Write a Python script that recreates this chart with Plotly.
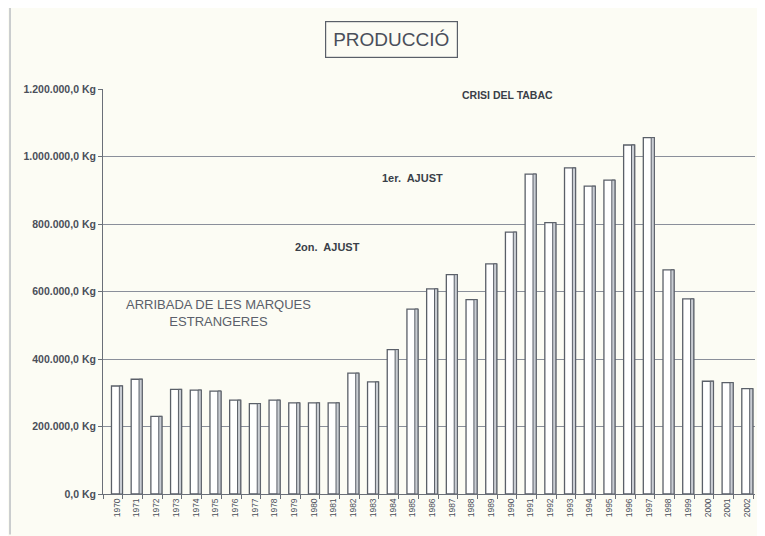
import plotly.graph_objects as go

years = list(range(1970, 2003))
production_kg = [
    320000, 340000, 230000, 310000, 308000, 305000, 278000, 268000, 278000, 270000,
    270000, 270000, 358000, 332000, 428000, 548000, 608000, 650000, 576000, 682000,
    776000, 948000, 804000, 966000, 912000, 930000, 1034000, 1056000, 664000, 578000,
    334000, 330000, 312000,
]
y_tick_values = [0, 200000, 400000, 600000, 800000, 1000000, 1200000]
y_tick_labels = ["0,0 Kg", "200.000,0 Kg", "400.000,0 Kg", "600.000,0 Kg",
                 "800.000,0 Kg", "1.000.000,0 Kg", "1.200.000,0 Kg"]
x_tick_labels = [str(y) for y in years]

FONT = "Liberation Sans, Arial, sans-serif"
INK = "#4a4f5a"
BG = "#fcfcf4"

fig = go.Figure()
# main bar faces
fig.add_trace(go.Bar(
    x=years, y=production_kg, width=0.56,
    marker=dict(color="#ffffff", line=dict(color="#5a5f68", width=1.3)),
    hoverinfo="x+y", showlegend=False,
))
# shaded side of bars (pseudo 3D)
fig.add_trace(go.Bar(
    x=years, y=production_kg, width=0.16, offset=0.12,
    marker=dict(color="#c9cdd3", line=dict(color="#5a5f68", width=1)),
    hoverinfo="skip", showlegend=False,
))

fig.update_layout(
    width=757, height=528,
    margin=dict(l=95, r=10, t=81, b=42),
    paper_bgcolor=BG, plot_bgcolor=BG,
    barmode="overlay",
    font=dict(family=FONT, color=INK),
    xaxis=dict(
        range=[1969.29, 2002.39],
        tickmode="array", tickvals=years, ticktext=x_tick_labels,
        tickangle=-90, tickfont=dict(size=8.5, color=INK),
        showgrid=False, showline=True, linecolor="#6a6f78", linewidth=1,
        ticks="", zeroline=False,
        minor=dict(ticks="outside", tick0=1970.3, dtick=1, ticklen=4,
                   tickcolor="#6a6f78", showgrid=False),
    ),
    yaxis=dict(
        range=[0, 1200000],
        tickmode="array", tickvals=y_tick_values, ticktext=y_tick_labels,
        tickfont=dict(size=10.5, color=INK, family=FONT, weight="bold"),
        showgrid=True, gridcolor="#8a8f9a", gridwidth=1,
        showline=True, linecolor="#6a6f78", linewidth=1,
        ticks="outside", ticklen=4, tickcolor="#6a6f78",
        zeroline=False,
    ),
    annotations=[
        dict(text="PRODUCCIÓ", xref="paper", yref="paper", x=0.442, y=1.121,
             xanchor="center", yanchor="middle",
             showarrow=False, font=dict(size=19, color=INK, family=FONT),
             bordercolor="#5a5f68", borderwidth=1.2, borderpad=7, bgcolor=BG),
        dict(text="<b>CRISI DEL TABAC</b>", x=1989.8, y=1182000, showarrow=False,
             font=dict(size=10.5, color="#3a3f48")),
        dict(text="<b>1er.  AJUST</b>", x=1985.0, y=936000, showarrow=False,
             font=dict(size=11, color="#3a3f48")),
        dict(text="<b>2on.  AJUST</b>", x=1980.7, y=732000, showarrow=False,
             font=dict(size=11, color="#3a3f48")),
        dict(text="ARRIBADA DE LES MARQUES<br>ESTRANGERES", x=1975.15, y=535000,
             showarrow=False, font=dict(size=13, color="#5a5f6a")),
    ],
    shapes=[
        dict(type="line", xref="paper", yref="paper", x0=-0.1426, x1=-0.1426, y0=-0.1, y1=1.22,
             line=dict(color="#9aa0aa", width=1)),
    ],
)

fig.write_html("out.html")
